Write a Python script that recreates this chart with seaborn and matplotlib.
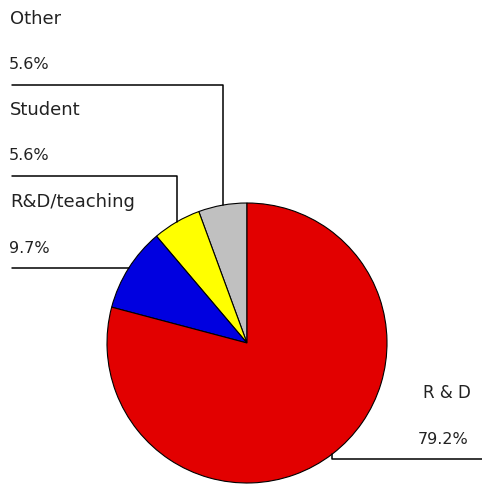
import numpy as np
import matplotlib.pyplot as plt
import seaborn as sns

labels = ['Other', 'Student', 'R&D/teaching', 'R & D']
shares = [5.6, 5.6, 9.7, 79.2]
pct_text = ['5.6%', '5.6%', '9.7%', '79.2%']
colors = ['#c0c0c0', '#ffff00', '#0000e0', '#e20000']

# label row heights (data units, pie radius = 1); None -> stay at wedge edge
levels = [1.843, 1.193, None, -0.829]

sns.set_style('white')
plt.rcParams['font.family'] = ['DejaVu Sans']

fig = plt.figure(figsize=(4.82, 4.85), dpi=100)
ax = fig.add_axes([0, 0, 1, 1])
wedges, _ = ax.pie(shares, colors=colors, startangle=90, counterclock=True,
                   radius=1, wedgeprops=dict(edgecolor='black', linewidth=0.8))
ax.set_xlim(-247 / 140, 235 / 140)
ax.set_ylim(-141 / 140, 344 / 140)
ax.set_aspect('equal')
ax.axis('off')

x_left = -235 / 140
x_right = 235 / 140
for w, name, pct, lv in zip(wedges, labels, pct_text, levels):
    ang = np.deg2rad((w.theta1 + w.theta2) / 2)
    px, py = np.cos(ang), np.sin(ang)
    ly = py if lv is None else lv
    if px < 0:
        ax.plot([px, px, x_left], [py, ly, ly], color='black', lw=1.1)
        tx_name, tx_pct, fs = -237 / 140, -238 / 140, 13
    else:
        ax.plot([px, px, x_right], [py, ly, ly], color='black', lw=1.1)
        tx_name, tx_pct, fs = 176 / 140, 171 / 140, 12
    ax.text(tx_name, ly + 67 / 140, name, fontsize=fs, va='center', ha='left', color='#222222')
    ax.text(tx_pct, ly + 21 / 140, pct, fontsize=11.5, va='center', ha='left', color='#222222')

fig.savefig('out.png', dpi=100)
